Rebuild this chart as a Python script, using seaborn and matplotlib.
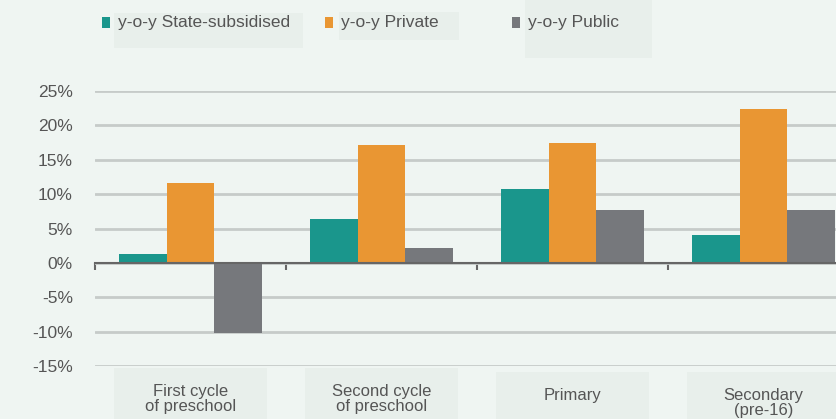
import numpy as np
import pandas as pd
import seaborn as sns
import matplotlib.pyplot as plt
from matplotlib.patches import Rectangle
import matplotlib.transforms as mtransforms

categories = ["First cycle\nof preschool", "Second cycle\nof preschool", "Primary", "Secondary\n(pre-16)"]
series = ["y-o-y State-subsidised", "y-o-y Private", "y-o-y Public"]
state_subsidised = [1.3, 6.4, 10.8, 4.0]
private = [11.6, 17.2, 17.4, 22.4]
public = [-10.2, 2.2, 7.7, 7.7]
yticks = [-15, -10, -5, 0, 5, 10, 15, 20, 25]

colors = ["#1a968c", "#e99633", "#76787c"]
bg = "#eff5f2"
box = "#e8efeb"
txt = "#555555"

df = pd.DataFrame({
    "cat": categories * 3,
    "series": np.repeat(series, 4),
    "value": state_subsidised + private + public,
})

sns.set_style("white")
plt.rcParams["font.family"] = ["Liberation Sans Narrow", "Liberation Sans", "DejaVu Sans"]

fig = plt.figure(figsize=(8.36, 4.19), dpi=100, facecolor=bg)
ax = fig.add_axes([95 / 836, 1 - 366 / 419, 741 / 836, 275 / 419])
ax.set_facecolor(bg)

sns.barplot(data=df, x="cat", y="value", hue="series", palette=colors,
            width=0.75, saturation=1, linewidth=0, ax=ax, legend=False, zorder=3)

ax.set_xlim(-0.5, 3.38)
ax.set_ylim(-15, 25)
ax.set_yticks(yticks)
ax.set_yticklabels([f"{v}%" for v in yticks], fontsize=12.5, color=txt)
ax.tick_params(axis="y", length=0, pad=16)
ax.yaxis.grid(True, color="#c6cbc9", linewidth=2, zorder=0)
for s in ["top", "right", "left"]:
    ax.spines[s].set_visible(False)
ax.spines["bottom"].set_position(("data", 0))
ax.spines["bottom"].set_color("#666666")
ax.spines["bottom"].set_linewidth(1.5)
ax.spines["bottom"].set_zorder(4)
ax.set_xticks(np.arange(-0.5, 3, 1))
ax.set_xticklabels([])
ax.tick_params(axis="x", bottom=True, direction="out", length=5, width=1.5, color="#666666")
ax.set_xlabel("")
ax.set_ylabel("")

# category label boxes
trans = mtransforms.blended_transform_factory(ax.transData, fig.transFigure)
label_y = [399, 399, 395, 403]
for i, c in enumerate(categories):
    top = 1 - (368 if i < 2 else 372) / 419
    ax.add_patch(Rectangle((i - 0.4, 0), 0.8, top, transform=trans,
                           facecolor=box, edgecolor="none", clip_on=False, zorder=1))
    ax.text(i, 1 - label_y[i] / 419, c, transform=trans,
            ha="center", va="center", fontsize=12, color=txt, linespacing=0.95)

# legend
leg_sq = [102, 325, 512]
leg_box = [(114, 303, 13, 48), (339, 459, 12, 40), (525, 652, 0, 58)]
for (x0, x1, y0, y1) in leg_box:
    fig.patches.append(Rectangle((x0 / 836, 1 - y1 / 419), (x1 - x0) / 836, (y1 - y0) / 419,
                                 transform=fig.transFigure, facecolor=box, edgecolor="none", zorder=0))
for x, s, col in zip(leg_sq, series, colors):
    fig.patches.append(Rectangle((x / 836, 1 - 28 / 419), 8 / 836, 11 / 419,
                                 transform=fig.transFigure, facecolor=col, edgecolor="none"))
    fig.text((x + 16) / 836, 1 - 22 / 419, s, ha="left", va="center", fontsize=12.5, color=txt)

fig.savefig("out.png", dpi=100, facecolor=bg)
